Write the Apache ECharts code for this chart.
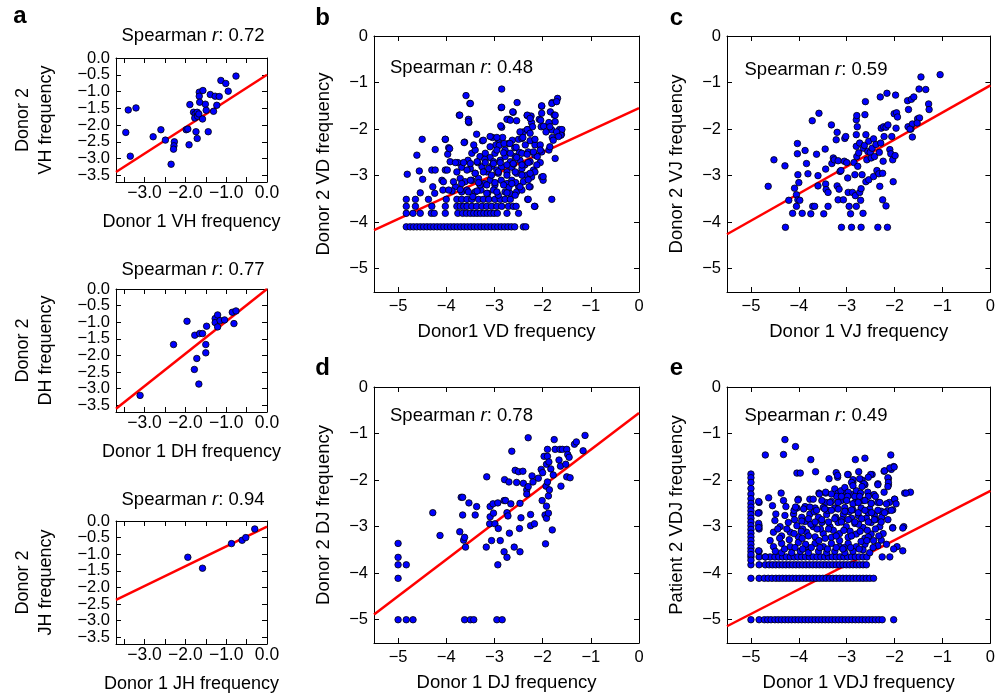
<!DOCTYPE html>
<html><head><meta charset="utf-8">
<script src="https://cdn.jsdelivr.net/npm/echarts@6/dist/echarts.min.js"></script>
<style>html,body{margin:0;padding:0;background:#fff}#c{width:998px;height:697px}</style>
</head><body><div id="c"></div>
<script>
// ---------------- DATA ----------------
// tick values
const aTickVals = [-3.5,-3.0,-2.5,-2.0,-1.5,-1.0,-0.5,0];
const aXLabelVals = [-3,-2,-1,0];
const aYLabelValsHalf = [-3.5,-2.5,-1.5,-0.5];
const aYLabelValsWhole = [-3.0,-2.0,-1.0,0];
const bigTickVals = [-5,-4,-3,-2,-1,0];

// panel a: VH
const vhPoints = [[-3.40,-1.55],[-3.21,-1.49],[-3.46,-2.22],[-3.35,-2.93],[-2.79,-2.35],[-2.60,-2.14],[-2.49,-2.45],[-2.27,-2.50],[-2.28,-2.62],[-2.29,-2.72],[-2.35,-3.17],[-1.98,-2.14],[-1.94,-2.12],[-1.91,-2.59],[-1.89,-1.39],[-1.80,-1.62],[-1.76,-1.67],[-1.77,-1.79],[-1.71,-1.62],[-1.70,-1.74],[-1.67,-1.67],[-1.74,-2.20],[-1.71,-2.40],[-1.66,-1.02],[-1.66,-1.14],[-1.65,-1.32],[-1.57,-0.97],[-1.58,-1.82],[-1.51,-1.38],[-1.49,-1.56],[-1.44,-2.20],[-1.39,-1.09],[-1.27,-1.14],[-1.17,-1.15],[-1.23,-1.41],[-1.31,-1.59],[-1.13,-0.67],[-1.01,-0.76],[-0.95,-0.99],[-0.76,-0.54]];
const vhFit = [[-3.7,-3.4],[0,-0.5]];
// panel a: DH
const dhPoints = [[-3.11,-3.20],[-2.29,-1.67],[-1.96,-0.97],[-1.77,-1.39],[-1.65,-1.34],[-1.58,-1.34],[-1.72,-2.09],[-1.78,-2.42],[-1.67,-2.86],[-1.50,-1.92],[-1.50,-1.67],[-1.48,-1.12],[-1.27,-0.89],[-1.27,-1.01],[-1.21,-0.78],[-1.21,-1.14],[-1.15,-0.95],[-1.04,-0.93],[-0.85,-0.70],[-0.76,-0.66],[-0.81,-1.04]];
const dhFit = [[-3.7,-3.6],[0,0]];
// panel a: JH
const jhPoints = [[-1.94,-1.09],[-1.58,-1.42],[-0.87,-0.68],[-0.61,-0.58],[-0.52,-0.50],[-0.30,-0.24]];
const jhFit = [[-3.7,-2.37],[0,-0.17]];

// panel b: VD
const vdLevel410 = [-4.83,-4.75,-4.68,-4.61,-4.54,-4.47,-4.40,-4.33,-4.26,-4.19,-4.12,-4.05,-3.98,-3.91,-3.84,-3.77,-3.70,-3.63,-3.56,-3.49,-3.42,-3.35,-3.28,-3.21,-3.14,-3.07,-3.00,-2.93,-2.86,-2.79,-2.72,-2.65,-2.58,-2.40,-2.35];
const vdLevel382 = [-4.83,-4.69,-4.54,-4.31,-4.25,-4.02,-3.76,-3.66,-3.58,-3.50,-3.43,-3.36,-3.29,-3.22,-3.15,-3.08,-3.01,-2.94,-2.74,-2.50];
const vdLevel365 = [-4.83,-4.64,-4.30,-4.02,-3.78,-3.71,-3.64,-3.57,-3.47,-3.37,-3.26,-3.16,-3.06,-2.95,-2.85,-2.71,-2.61,-2.55,-2.16];
const vdLevel353 = [-4.83,-4.64,-4.37,-4.00,-3.78,-3.68,-3.57,-3.47,-3.33,-3.23,-3.12,-2.99,-2.88,-2.78,-2.67,-2.31,-2.30,-1.81];
const vdCloud = [[-2.85,-1.14],[-3.59,-1.28],[-3.51,-1.45],[-3.73,-1.70],[-3.54,-1.79],[-3.53,-1.86],[-2.86,-1.54],[-2.53,-1.43],[-1.69,-1.34],[-1.80,-1.43],[-2.02,-1.51],[-1.84,-1.63],[-2.61,-1.64],[-2.32,-1.71],[-2.24,-1.72],[-2.70,-1.79],[-2.85,-1.96],[-2.02,-1.66],[-1.76,-1.70],[-1.74,-1.84],[-1.87,-1.86],[-2.07,-1.79],[-2.23,-1.86],[-2.30,-2.01],[-2.40,-2.06],[-2.03,-1.95],[-1.81,-2.02],[-1.61,-2.11],[-1.65,-2.01],[-4.50,-2.22],[-4.02,-2.22],[-3.62,-2.28],[-3.37,-2.11],[-3.25,-2.25],[-3.04,-2.18],[-2.92,-2.22],[-2.83,-2.18],[-2.97,-2.34],[-2.71,-2.31],[-2.63,-2.24],[-2.50,-2.22],[-2.43,-2.20],[-2.36,-2.34],[-2.26,-2.25],[-2.16,-2.34],[-2.05,-2.34],[-2.02,-2.49],[-1.87,-2.45],[-2.30,-2.49],[-2.16,-2.56],[-1.74,-2.63],[-2.05,-2.72],[-2.19,-2.88],[-4.61,-2.56],[-4.23,-2.44],[-3.95,-2.40],[-3.97,-2.54],[-3.76,-2.72],[-3.92,-2.70],[-4.30,-2.88],[-4.23,-2.88],[-4.02,-2.88],[-4.56,-2.90],[-4.81,-2.97],[-4.49,-3.08],[-4.09,-3.10],[-4.06,-3.13],[-3.68,-2.82],[-3.55,-2.67],[-3.47,-2.52],[-3.40,-2.45],[-3.30,-2.59],[-3.19,-2.52],[-3.09,-2.61],[-2.99,-2.52],[-2.88,-2.67],[-2.78,-2.59],[-2.67,-2.70],[-2.57,-2.59],[-2.47,-2.67],[-2.37,-2.77],[-2.26,-2.70],[-3.50,-2.85],[-3.40,-2.95],[-3.26,-2.81],[-3.16,-2.92],[-3.06,-2.80],[-2.95,-2.88],[-2.85,-2.81],[-2.74,-2.92],[-2.64,-2.82],[-2.54,-2.95],[-2.43,-2.85],[-2.33,-2.99],[-2.23,-3.03],[-2.02,-3.03],[-1.99,-3.10],[-3.71,-3.06],[-3.61,-3.13],[-3.47,-3.10],[-3.33,-3.06],[-3.21,-3.17],[-3.09,-3.10],[-2.99,-3.20],[-2.86,-3.10],[-2.74,-3.17],[-2.64,-3.10],[-2.50,-3.23],[-2.40,-3.13],[-2.26,-3.24],[-3.81,-3.24],[-3.88,-3.33],[-3.68,-3.35],[-3.57,-3.31],[-3.40,-3.35],[-3.28,-3.31],[-3.14,-3.38],[-3.02,-3.31],[-2.92,-3.42],[-2.78,-3.35],[-2.68,-3.38],[-2.54,-3.35],[-2.43,-3.31],[-4.54,-3.37],[-4.28,-3.24],[-4.24,-3.38],[-4.07,-3.31],[-2.17,-3.66],[-1.60,-2.01],[-1.62,-2.13],[-1.80,-2.18],[-1.99,-3.02],[-2.16,-2.92],[-2.11,-2.59],[-2.30,-3.09],[-2.28,-3.24],[-3.35,-2.72],[-3.20,-2.65],[-3.02,-2.70],[-2.92,-2.95],[-2.60,-2.75],[-2.48,-2.50],[-2.78,-2.45],[-3.12,-2.85],[-3.30,-3.20],[-2.70,-3.25],[-2.56,-3.15],[-3.45,-3.45],[-2.58,-2.40],[-2.90,-2.35]];
const vdCloud2 = [[-3.50,-1.45],[-2.85,-1.53],[-2.02,-1.50],[-1.81,-1.45],[-1.71,-1.41],[-3.72,-1.70],[-3.54,-1.84],[-2.62,-1.63],[-2.87,-1.93],[-2.74,-1.79],[-2.67,-1.81],[-2.54,-1.82],[-2.32,-1.70],[-2.26,-1.77],[-2.21,-1.95],[-2.32,-2.01],[-2.04,-1.81],[-1.98,-1.94],[-1.93,-2.06],[-1.85,-1.95],[-1.74,-1.70],[-1.71,-2.06],[-1.67,-2.16],[-1.78,-2.24],[-1.85,-2.38],[-2.47,-2.06],[-2.41,-2.18],[-2.26,-2.09],[-2.16,-2.22],[-4.02,-2.22],[-3.93,-2.42],[-3.63,-2.29],[-3.43,-2.34],[-3.23,-2.24],[-3.09,-2.16],[-2.95,-2.18],[-2.80,-2.31],[-2.68,-2.31],[-2.55,-2.39],[-2.43,-2.52],[-2.32,-2.54],[-2.19,-2.49],[-2.05,-2.45],[-3.09,-2.38],[-2.95,-2.45],[-2.81,-2.51],[-2.67,-2.52],[-2.54,-2.61],[-3.81,-2.72],[-3.64,-2.72],[-3.50,-2.74],[-3.36,-2.70],[-3.19,-2.72],[-3.02,-2.74],[-2.88,-2.72],[-2.74,-2.77],[-2.61,-2.74],[-2.43,-2.77],[-2.30,-2.72],[-2.12,-2.77],[-3.98,-2.88],[-3.78,-2.92],[-3.57,-2.88],[-3.40,-2.95],[-3.23,-2.92],[-3.06,-2.99],[-2.92,-2.92],[-2.74,-2.99],[-2.57,-2.92],[-2.43,-2.99],[-2.26,-2.95],[-3.85,-3.13],[-3.68,-3.17],[-3.50,-3.10],[-3.33,-3.15],[-3.16,-3.20],[-2.99,-3.15],[-2.81,-3.20],[-2.64,-3.17],[-2.47,-3.24],[-3.95,-3.31],[-3.71,-3.30],[-3.54,-3.35],[-3.36,-3.33],[-3.16,-3.38],[-2.95,-3.35],[-2.74,-3.37],[-2.57,-3.42]];
const vdFit = [[-5.5,-4.17],[0,-1.55]];

// panel c: VJ
const vjPoints = [[-4.64,-3.23],[-4.52,-2.66],[-4.29,-2.79],[-4.28,-4.11],[-4.21,-3.53],[-4.13,-3.81],[-4.09,-3.27],[-4.05,-3.41],[-4.02,-3.52],[-4.05,-3.66],[-4.03,-2.31],[-4.03,-2.53],[-4.02,-2.98],[-4.00,-3.15],[-3.98,-3.53],[-3.93,-3.81],[-3.87,-2.46],[-3.84,-2.74],[-3.81,-2.96],[-3.75,-3.82],[-3.72,-1.82],[-3.71,-3.66],[-3.67,-3.66],[-3.63,-2.54],[-3.60,-3.00],[-3.58,-1.66],[-3.60,-3.22],[-3.48,-3.82],[-3.45,-2.43],[-3.44,-2.86],[-3.44,-3.18],[-3.43,-3.30],[-3.39,-3.36],[-3.39,-3.66],[-3.32,-1.91],[-3.31,-2.74],[-3.28,-2.62],[-3.26,-2.66],[-3.22,-2.23],[-3.20,-2.07],[-3.20,-3.22],[-3.18,-2.68],[-3.18,-3.52],[-3.16,-3.29],[-3.14,-2.91],[-3.12,-2.89],[-3.11,-4.11],[-3.07,-3.52],[-3.05,-2.69],[-3.04,-2.20],[-3.02,-2.16],[-3.00,-2.72],[-2.98,-3.05],[-2.97,-3.36],[-2.95,-3.66],[-2.92,-3.82],[-2.90,-4.11],[-2.88,-3.36],[-2.85,-2.72],[-2.83,-2.98],[-2.82,-3.43],[-2.80,-3.66],[-2.80,-1.80],[-2.79,-1.71],[-2.78,-1.95],[-2.80,-2.12],[-2.80,-2.37],[-2.79,-2.59],[-2.77,-2.80],[-2.75,-2.51],[-2.73,-2.30],[-2.73,-3.36],[-2.71,-3.53],[-2.70,-4.11],[-2.70,-3.28],[-2.68,-2.98],[-2.66,-3.81],[-2.65,-2.41],[-2.63,-2.35],[-2.62,-1.69],[-2.61,-1.41],[-2.60,-2.12],[-2.60,-3.13],[-2.58,-2.66],[-2.56,-2.48],[-2.54,-2.26],[-2.54,-3.09],[-2.51,-2.50],[-2.49,-2.62],[-2.47,-2.41],[-2.44,-2.21],[-2.44,-3.02],[-2.42,-2.59],[-2.39,-2.33],[-2.37,-2.89],[-2.35,-4.11],[-2.33,-2.96],[-2.32,-2.50],[-2.31,-3.23],[-2.30,-1.31],[-2.29,-2.30],[-2.28,-1.98],[-2.25,-3.52],[-2.25,-2.95],[-2.24,-2.69],[-2.23,-1.95],[-2.22,-2.16],[-2.18,-3.65],[-2.18,-1.96],[-2.16,-1.23],[-2.15,-4.11],[-2.14,-1.91],[-2.10,-2.44],[-2.08,-2.53],[-2.06,-2.16],[-2.04,-2.66],[-2.03,-3.13],[-2.01,-1.67],[-1.99,-2.57],[-1.98,-1.27],[-1.97,-1.98],[-1.96,-1.65],[-1.94,-1.74],[-1.73,-1.39],[-1.71,-1.58],[-1.72,-1.95],[-1.66,-2.00],[-1.63,-1.89],[-1.65,-1.36],[-1.63,-2.17],[-1.60,-1.31],[-1.52,-1.78],[-1.49,-1.14],[-1.48,-1.76],[-1.45,-0.88],[-1.35,-1.15],[-1.29,-1.46],[-1.28,-1.58],[-1.05,-0.83],[-1.53,-1.87],[-1.68,-2.00]];
const vjFit = [[-5.5,-4.26],[0,-1.06]];

// panel d: DJ
const djPoints = [[-5.0,-3.36],[-5.0,-3.66],[-5.0,-3.82],[-5.0,-4.11],[-5.0,-5.0],[-4.83,-3.82],[-4.83,-5.0],[-4.69,-5.0],[-4.28,-2.70],[-4.13,-3.19],[-3.72,-3.11],[-3.69,-2.37],[-3.66,-2.37],[-3.66,-2.75],[-3.64,-3.29],[-3.62,-3.23],[-3.60,-3.44],[-3.62,-5.0],[-3.53,-2.49],[-3.50,-5.0],[-3.43,-5.0],[-3.40,-2.75],[-3.37,-2.57],[-3.17,-3.44],[-3.16,-1.93],[-3.10,-2.94],[-3.09,-2.79],[-3.09,-2.57],[-3.06,-3.30],[-3.03,-2.51],[-3.02,-2.71],[-2.99,-2.94],[-2.95,-5.0],[-2.93,-2.49],[-2.92,-3.04],[-2.93,-3.82],[-2.88,-3.30],[-2.84,-5.0],[-2.80,-2.44],[-2.79,-1.99],[-2.80,-3.54],[-2.77,-2.44],[-2.74,-2.70],[-2.74,-3.66],[-2.72,-2.77],[-2.70,-2.04],[-2.69,-3.14],[-2.66,-2.51],[-2.64,-1.38],[-2.59,-3.44],[-2.57,-1.79],[-2.54,-2.05],[-2.50,-1.82],[-2.48,-3.04],[-2.47,-2.50],[-2.47,-3.54],[-2.45,-2.81],[-2.41,-1.81],[-2.40,-2.07],[-2.33,-2.21],[-2.33,-2.30],[-2.30,-1.09],[-2.30,-2.14],[-2.25,-2.74],[-2.25,-2.98],[-2.22,-1.91],[-2.20,-2.04],[-2.17,-2.94],[-2.09,-1.96],[-2.03,-1.77],[-2.01,-2.44],[-2.00,-1.84],[-1.97,-1.49],[-1.94,-3.37],[-1.95,-2.75],[-1.93,-2.13],[-1.92,-2.56],[-1.92,-1.66],[-1.90,-1.34],[-1.90,-1.49],[-1.92,-2.82],[-1.90,-2.04],[-1.88,-2.34],[-1.88,-2.71],[-1.87,-1.61],[-1.86,-2.21],[-1.83,-1.76],[-1.80,-3.07],[-1.78,-1.89],[-1.76,-1.13],[-1.74,-1.34],[-1.66,-1.57],[-1.64,-1.34],[-1.63,-1.70],[-1.62,-2.13],[-1.59,-1.34],[-1.52,-1.66],[-1.50,-1.93],[-1.50,-1.34],[-1.48,-1.45],[-1.45,-1.51],[-1.43,-1.95],[-1.34,-1.23],[-1.30,-1.18],[-1.16,-1.37],[-1.12,-1.04]];
const djFit = [[-5.5,-4.89],[0,-0.56]];

// panel e: VDJ
const vdjLevel500 = [-5.0,-4.83,-4.72,-4.65,-4.58,-4.50,-4.43,-4.36,-4.29,-4.22,-4.15,-4.08,-4.01,-3.94,-3.87,-3.80,-3.73,-3.66,-3.59,-3.52,-3.45,-3.38,-3.31,-3.24,-3.17,-3.10,-3.03,-2.96,-2.89,-2.82,-2.75,-2.68,-2.61,-2.54,-2.47,-2.40,-2.33,-2.26,-2.02];
const vdjLevel410 = [-5.0,-4.83,-4.72,-4.64,-4.56,-4.48,-4.41,-4.34,-4.27,-4.20,-4.13,-4.06,-3.99,-3.92,-3.85,-3.78,-3.71,-3.64,-3.57,-3.50,-3.43,-3.36,-3.29,-3.22,-3.15,-3.08,-3.01,-2.94,-2.87,-2.80,-2.73,-2.66,-2.59,-2.52,-2.44];
const vdjLevel382 = [-5.0,-4.83,-4.70,-4.62,-4.55,-4.48,-4.41,-4.34,-4.27,-4.20,-4.13,-4.06,-3.99,-3.92,-3.85,-3.78,-3.71,-3.64,-3.57,-3.50,-3.43,-3.36,-3.29,-3.22,-3.15,-3.08,-3.01,-2.94,-2.87,-2.80,-2.73,-2.66,-2.59];
const vdjLevel365 = [-5.0,-4.83,-4.70,-4.60,-4.50,-4.42,-4.34,-4.26,-4.18,-4.10,-4.02,-3.94,-3.86,-3.78,-3.70,-3.62,-3.54,-3.46,-3.38,-3.30,-3.22,-3.14,-3.06,-2.98,-2.90,-2.82,-2.74,-2.66,-2.58];
const vdjColumn500 = [-1.87,-1.95,-2.05,-2.18,-2.30,-2.40,-2.50,-2.58,-2.66,-2.74,-2.82,-2.90,-2.98,-3.06,-3.14,-3.22,-3.30,-3.38,-3.46,-3.53,-3.60,-3.72];
const vdjColumn483 = [-2.48,-2.70,-2.98,-3.05,-3.53];
const vdjCloud = [[-4.29,-1.13],[-4.07,-1.28],[-4.70,-1.46],[-4.32,-1.45],[-3.75,-1.56],[-2.82,-1.56],[-2.62,-1.53],[-2.08,-1.46],[-4.04,-1.85],[-3.97,-1.85],[-3.65,-1.82],[-3.22,-1.84],[-3.19,-1.94],[-2.97,-1.88],[-2.75,-1.82],[-2.47,-1.88],[-2.22,-1.81],[-2.07,-1.77],[-2.02,-1.71],[-3.37,-1.97],[-2.87,-2.05],[-2.68,-2.00],[-2.62,-2.10],[-2.35,-2.08],[-2.13,-1.97],[-2.13,-2.10],[-4.37,-2.28],[-3.58,-2.28],[-3.44,-2.28],[-3.25,-2.19],[-3.18,-2.28],[-3.01,-2.26],[-2.90,-2.31],[-2.80,-2.23],[-2.71,-2.28],[-2.56,-2.26],[-2.43,-2.31],[-2.22,-2.26],[-2.00,-2.41],[-1.79,-2.28],[-1.67,-2.26],[-4.63,-2.38],[-4.84,-2.46],[-4.32,-2.44],[-4.01,-2.41],[-3.77,-2.41],[-3.44,-2.48],[-3.32,-2.46],[-3.11,-2.44],[-3.01,-2.43],[-2.83,-2.48],[-2.66,-2.44],[-2.49,-2.50],[-2.35,-2.48],[-2.11,-2.48],[-4.55,-2.55],[-4.27,-2.57],[-4.04,-2.60],[-3.87,-2.57],[-3.66,-2.60],[-3.49,-2.59],[-3.25,-2.60],[-3.04,-2.59],[-2.87,-2.64],[-2.70,-2.60],[-2.52,-2.62],[-2.28,-2.67],[-2.15,-2.66],[-2.04,-2.64],[-4.85,-2.71],[-4.48,-2.73],[-4.29,-2.76],[-4.11,-2.73],[-3.94,-2.80],[-3.77,-2.73],[-3.59,-2.80],[-3.42,-2.74],[-3.23,-2.80],[-3.07,-2.74],[-2.90,-2.82],[-2.76,-2.76],[-2.59,-2.82],[-2.42,-2.76],[-2.27,-2.80],[-4.84,-2.93],[-4.84,-3.02],[-4.50,-2.87],[-4.39,-3.00],[-4.22,-2.91],[-4.04,-2.98],[-3.87,-2.89],[-3.70,-3.00],[-3.52,-2.91],[-3.35,-3.00],[-3.18,-2.91],[-3.01,-3.00],[-2.83,-2.93],[-2.66,-3.02],[-2.49,-2.91],[-2.31,-3.00],[-2.04,-3.02],[-1.81,-3.00],[-4.53,-3.12],[-4.36,-3.20],[-4.18,-3.12],[-4.01,-3.22],[-3.84,-3.12],[-3.66,-3.22],[-3.49,-3.15],[-3.32,-3.23],[-3.15,-3.15],[-2.97,-3.23],[-2.80,-3.16],[-2.62,-3.25],[-2.49,-3.16],[-4.53,-3.43],[-4.36,-3.36],[-4.18,-3.43],[-4.01,-3.34],[-3.84,-3.43],[-3.66,-3.36],[-3.49,-3.43],[-3.32,-3.36],[-3.15,-3.43],[-2.97,-3.36],[-2.80,-3.43],[-2.62,-3.38],[-2.66,-3.50],[-2.28,-3.29],[-2.17,-3.38],[-1.95,-3.43],[-1.83,-3.52],[-2.02,-3.48],[-2.26,-3.65],[-2.10,-3.65],[-2.35,-3.41],[-4.84,-3.52],[-4.70,-3.65],[-4.49,-3.53],[-4.36,-3.56],[-4.15,-3.56],[-3.97,-3.53],[-3.80,-3.56],[-3.59,-3.53],[-3.42,-3.56],[-3.25,-3.53],[-3.04,-3.56],[-2.87,-3.53],[-2.52,-3.56],[-4.44,-3.05],[-4.10,-2.65],[-3.93,-3.25],[-3.75,-2.95],[-3.58,-3.30],[-3.40,-2.65],[-3.28,-3.08],[-3.10,-2.85],[-2.93,-3.10],[-2.75,-2.95],[-2.57,-3.08],[-2.40,-2.85],[-2.24,-3.15],[-4.60,-3.30],[-3.92,-3.05],[-3.55,-3.05],[-3.15,-3.30],[-2.70,-3.32],[-2.95,-2.68],[-2.55,-2.70],[-3.68,-2.68],[-4.20,-3.28],[-3.86,-3.38],[-3.05,-3.45],[-2.45,-3.45]];
const vdjCloud2 = [[-3.19,-1.90],[-2.98,-1.88],[-2.50,-1.88],[-2.21,-1.80],[-2.10,-1.74],[-2.01,-1.72],[-2.87,-1.99],[-2.73,-1.97],[-2.55,-1.94],[-2.35,-2.10],[-2.14,-1.95],[-2.13,-2.05],[-2.14,-2.14],[-2.64,-2.08],[-2.68,-2.14],[-2.90,-2.05],[-2.87,-2.12],[-3.12,-2.23],[-3.04,-2.16],[-2.97,-2.26],[-3.21,-2.35],[-3.11,-2.35],[-2.98,-2.35],[-2.83,-2.35],[-2.73,-2.35],[-2.55,-2.35],[-2.40,-2.35],[-3.57,-2.30],[-3.44,-2.26],[-3.32,-2.30],[-4.02,-2.43],[-3.70,-2.41],[-3.52,-2.44],[-3.35,-2.48],[-3.18,-2.48],[-3.00,-2.44],[-2.87,-2.51],[-2.76,-2.48],[-2.62,-2.44],[-2.49,-2.50],[-2.31,-2.48],[-2.17,-2.51],[-2.00,-2.41],[-1.97,-2.51],[-1.76,-2.28],[-4.07,-2.58],[-3.90,-2.62],[-3.77,-2.58],[-3.63,-2.65],[-3.46,-2.62],[-3.32,-2.65],[-3.18,-2.62],[-3.04,-2.67],[-2.90,-2.64],[-2.76,-2.70],[-2.62,-2.65],[-2.48,-2.70],[-2.35,-2.65],[-2.21,-2.70],[-2.07,-2.65],[-4.09,-2.85],[-3.94,-2.88],[-3.80,-2.83],[-3.66,-2.90],[-3.52,-2.85],[-3.38,-2.90],[-3.25,-2.83],[-3.11,-2.90],[-2.97,-2.85],[-2.83,-2.90],[-2.69,-2.83],[-2.55,-2.90],[-2.42,-2.85],[-2.28,-2.90],[-2.14,-2.85],[-2.04,-3.03],[-1.83,-3.03],[-4.40,-3.25],[-4.25,-3.05],[-4.10,-3.15],[-3.95,-3.10],[-3.80,-3.20],[-3.62,-3.05],[-3.45,-3.25],[-3.38,-3.05],[-3.22,-3.20],[-3.06,-3.08],[-2.90,-3.20],[-2.72,-3.10],[-2.55,-3.22],[-2.40,-3.05],[-2.33,-3.20],[-4.30,-3.48],[-4.08,-3.45],[-3.92,-3.48],[-3.74,-3.45],[-3.56,-3.45],[-3.40,-3.48],[-3.22,-3.45],[-3.08,-3.48],[-2.92,-3.45],[-2.74,-3.48],[-2.58,-3.30],[-2.44,-3.30]];
const vdjFit = [[-5.5,-5.14],[0,-2.23]];

// ---------------- BUILD ----------------
const FONT = '"Liberation Sans", Arial, Helvetica, sans-serif';
function rowPts(xs, y){ return xs.map(x => [x, y]); }
function colPts(ys, x){ return ys.map(y => [x, y]); }
const vdPoints = [].concat(rowPts(vdLevel410,-4.10), rowPts(vdLevel382,-3.81), rowPts(vdLevel365,-3.66), rowPts(vdLevel353,-3.51), vdCloud, vdCloud2);
const vdjPoints = [].concat(rowPts(vdjLevel500,-5.0), rowPts(vdjLevel410,-4.11), rowPts(vdjLevel382,-3.82), rowPts(vdjLevel365,-3.65), colPts(vdjColumn500,-5.0), colPts(vdjColumn483,-4.83), vdjCloud, vdjCloud2);

function fmt(dec){ return v => (v < -1e-9 ? '\u2212' : '') + (dec ? Math.abs(v).toFixed(1) : String(Math.round(Math.abs(v)))); }

const panels = [
  {grid:{left:116,top:58,width:151,height:124}, small:true, xName:'Donor 1 VH frequency', yName:'Donor 2\nVH frequency', pts:vhPoints, fit:vhFit, r:'0.72', rx:193, ry:35.5, ralign:'center'},
  {grid:{left:116,top:289,width:151,height:123}, small:true, xName:'Donor 1 DH frequency', yName:'Donor 2\nDH frequency', pts:dhPoints, fit:dhFit, r:'0.77', rx:193, ry:269.7, ralign:'center'},
  {grid:{left:116,top:521,width:151,height:123}, small:true, xName:'Donor 1 JH frequency', yName:'Donor 2\nJH frequency', pts:jhPoints, fit:jhFit, r:'0.94', rx:193, ry:500, ralign:'center'},
  {grid:{left:374,top:36,width:265,height:256}, small:false, xName:'Donor1 VD frequency', yName:'Donor 2 VD frequency', pts:vdPoints, fit:vdFit, r:'0.48', rx:390, ry:68, ralign:'left'},
  {grid:{left:727,top:36,width:265,height:256}, small:false, xName:'Donor 1 VJ frequency', yName:'Donor 2 VJ frequency', pts:vjPoints, fit:vjFit, r:'0.59', rx:744.5, ry:70, ralign:'left'},
  {grid:{left:374,top:387,width:265,height:256}, small:false, xName:'Donor 1 DJ frequency', yName:'Donor 2 DJ frequency', pts:djPoints, fit:djFit, r:'0.78', rx:390, ry:415.5, ralign:'left'},
  {grid:{left:727,top:387,width:265,height:256}, small:false, xName:'Donor 1 VDJ frequency', yName:'Patient 2 VDJ frequency', pts:vdjPoints, fit:vdjFit, r:'0.49', rx:744.5, ry:415.5, ralign:'left'}
];

const grid = [], xAxis = [], yAxis = [], series = [], graphic = [];
const lineStyle = {color:'#000', width:1};
panels.forEach((p, i) => {
  grid.push(p.grid);
  const range = p.small ? [-3.7, 0] : [-5.5, 0];
  const ticks = p.small ? aTickVals : bigTickVals;
  const xl = p.small ? aXLabelVals : bigTickVals;
  const f = fmt(p.small);
  const lfs = 16.5;
  const nfs = p.small ? 18 : 18.5;
  const xIdx = xAxis.length, yIdx = yAxis.length;
  ['bottom','top'].forEach(pos => {
    xAxis.push({type:'value', gridIndex:i, position:pos, min:range[0], max:range[1],
      axisLine:{show:true, onZero:false, lineStyle},
      axisTick:{show:true, inside:true, length:5, customValues:ticks, lineStyle},
      axisLabel:{show:pos==='bottom', customValues:xl, formatter:f, fontSize:p.small?17.5:lfs, color:'#000', fontFamily:FONT, margin:p.small?2:6,
        hideOverlap:false, showMinLabel:true, showMaxLabel:true},
      splitLine:{show:false},
      name: pos==='bottom' ? p.xName : '', nameLocation:'middle', nameGap: p.small ? 31 : 30,
      nameTextStyle:{fontSize:nfs, color:'#000', fontFamily:FONT}
    });
  });
  ['left','right'].forEach(pos => {
    yAxis.push({type:'value', gridIndex:i, position:pos, min:range[0], max:range[1],
      axisLine:{show:true, onZero:false, lineStyle},
      axisTick:{show:true, inside:true, length:5, customValues:ticks, lineStyle},
      axisLabel:{show:pos==='left', customValues: p.small ? aYLabelValsHalf : bigTickVals, formatter:f, fontSize:lfs, color:'#000', fontFamily:FONT, margin:6,
        hideOverlap:false, showMinLabel:true, showMaxLabel:true},
      splitLine:{show:false},
      name: pos==='left' ? p.yName : '', nameLocation:'middle', nameGap: p.small ? 58 : 39,
      nameTextStyle:{fontSize:nfs, color:'#000', fontFamily:FONT, lineHeight:23}
    });
  });
  if (p.small) {
    // second label layer for the whole-number ticks (avoids label-overlap hiding)
    yAxis.push({type:'value', gridIndex:i, position:'left', min:range[0], max:range[1],
      axisLine:{show:false, onZero:false}, axisTick:{show:false}, splitLine:{show:false},
      axisLabel:{show:true, customValues:aYLabelValsWhole, formatter:f, fontSize:lfs, color:'#000', fontFamily:FONT, margin:6,
        hideOverlap:false, showMinLabel:true, showMaxLabel:true}
    });
  }
  series.push({type:'line', xAxisIndex:xIdx, yAxisIndex:yIdx, data:p.fit, showSymbol:false, symbol:'none',
    lineStyle:{color:'#ff0000', width:2.5}, z:2, clip:true, silent:true});
  series.push({type:'scatter', xAxisIndex:xIdx, yAxisIndex:yIdx, data:p.pts, symbolSize:6.5,
    itemStyle:{color:'#0000ff', borderColor:'#000', borderWidth:0.8, opacity:1}, z:3, clip:true, silent:true});
  graphic.push({type:'text', x:p.rx, y:p.ry, z:10, style:{text:'Spearman {i|r}: ' + p.r, fontSize:18.5, fontFamily:FONT, fill:'#000',
    align:p.ralign, verticalAlign:'middle', rich:{i:{fontStyle:'italic', fontSize:18.5, fontFamily:FONT, fill:'#000'}}}});
});

const letters = [['a',20,16.6],['b',322.5,18.6],['c',676.5,18.6],['d',322.5,368.6],['e',676.5,368.6]];
letters.forEach(l => graphic.push({type:'text', x:l[1], y:l[2], z:10, style:{text:l[0], fontSize:24, fontWeight:'bold', fontFamily:FONT, fill:'#000', align:'center', verticalAlign:'middle'}}));

const chart = echarts.init(document.getElementById('c'), null, {renderer:'canvas'});
chart.setOption({animation:false, backgroundColor:'#fff', grid, xAxis, yAxis, series, graphic});
</script>
</body></html>
